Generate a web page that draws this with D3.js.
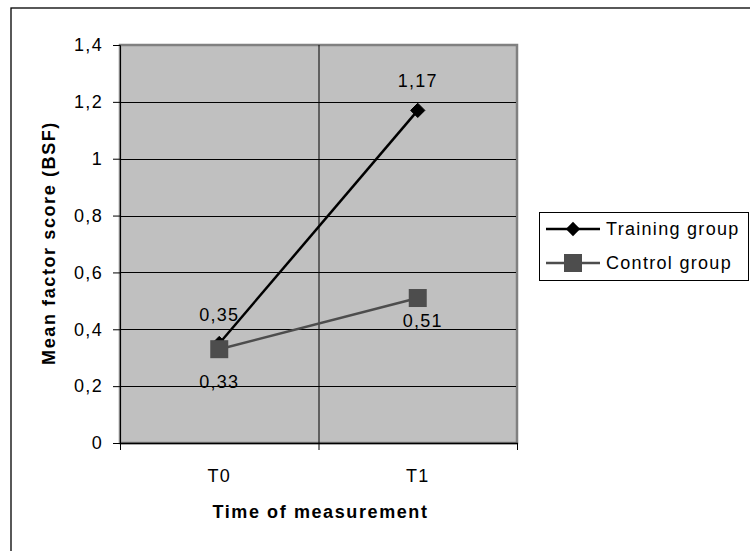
<!DOCTYPE html>
<html>
<head>
<meta charset="utf-8">
<script src="https://cdn.jsdelivr.net/npm/d3@7"></script>
<style>
  body { margin: 0; background: #fff; }
  text { font-family: "Liberation Sans", Arial, sans-serif; }
</style>
</head>
<body>
<script>
// chart data
var categories = ["T0", "T1"];
var trainingValues = [0.35, 1.17];
var controlValues = [0.33, 0.51];
var yTicks = [0, 0.2, 0.4, 0.6, 0.8, 1, 1.2, 1.4];
var seriesNames = ["Training group", "Control group"];

var W = 750, H = 551;
var plot = {left: 120, top: 45, right: 517, bottom: 443};
var FS = 18, LS = 1.3;

var svg = d3.select("body").append("svg")
  .attr("width", W).attr("height", H);

// outer frame (only left/top visible in the picture)
svg.append("rect")
  .attr("x", 11).attr("y", 8).attr("width", W + 10).attr("height", H + 10)
  .attr("fill", "#fff").attr("stroke", "#000").attr("stroke-width", 1.3);

var x = d3.scaleBand().domain(categories).range([plot.left, plot.right]);
var y = d3.scaleLinear().domain([0, 1.4]).range([plot.bottom, plot.top]);
var fmt = function(v){ return String(v).replace(".", ","); };

// plot background
svg.append("rect")
  .attr("x", plot.left).attr("y", plot.top)
  .attr("width", plot.right - plot.left).attr("height", plot.bottom - plot.top)
  .attr("fill", "#c0c0c0").attr("stroke", "#808080").attr("stroke-width", 2.5);

// horizontal gridlines
svg.selectAll("line.grid").data(yTicks.slice(1, -1)).enter().append("line")
  .attr("class", "grid")
  .attr("x1", plot.left).attr("x2", plot.right - 1)
  .attr("y1", function(d){ return Math.round(y(d)) + 0.5; })
  .attr("y2", function(d){ return Math.round(y(d)) + 0.5; })
  .attr("stroke", "#000").attr("stroke-width", 1);

// vertical gridline between categories
svg.append("line")
  .attr("x1", x("T1") + 0.5).attr("x2", x("T1") + 0.5)
  .attr("y1", plot.top).attr("y2", plot.bottom)
  .attr("stroke", "#000");

// y axis
var yAxis = d3.axisLeft(y).tickValues(yTicks).tickSize(7).tickPadding(10).tickFormat(fmt);
var gy = svg.append("g").attr("transform", "translate(" + plot.left + ",0)").call(yAxis);
gy.select(".domain").attr("stroke", "#000");
gy.selectAll("text").attr("font-size", FS).attr("fill", "#000")
  .attr("letter-spacing", LS).attr("font-family", "Liberation Sans, Arial, sans-serif");

// x axis
var gx = svg.append("g").attr("transform", "translate(0," + plot.bottom + ")");
gx.append("line").attr("x1", plot.left).attr("x2", plot.right + 1)
  .attr("y1", 0.5).attr("y2", 0.5).attr("stroke", "#000").attr("stroke-width", 1.5);
var xEdges = [plot.left, x("T1"), plot.right];
gx.selectAll("line.tk").data(xEdges).enter().append("line")
  .attr("class", "tk")
  .attr("x1", function(d){ return d + 0.5; }).attr("x2", function(d){ return d + 0.5; })
  .attr("y1", 0).attr("y2", 7).attr("stroke", "#000");
gx.selectAll("text").data(categories).enter().append("text")
  .attr("x", function(d){ return x(d) + x.bandwidth() / 2; })
  .attr("y", 39).attr("text-anchor", "middle").attr("font-size", FS)
  .attr("letter-spacing", LS)
  .text(function(d){ return d; });

// axis titles
svg.append("text")
  .attr("x", (plot.left + plot.right) / 2 + 2).attr("y", 518)
  .attr("text-anchor", "middle").attr("font-size", FS).attr("font-weight", "bold")
  .attr("letter-spacing", 1.6)
  .text("Time of measurement");
svg.append("text")
  .attr("transform", "translate(55,243) rotate(-90)")
  .attr("text-anchor", "middle").attr("font-size", FS).attr("font-weight", "bold")
  .attr("letter-spacing", 1.6)
  .text("Mean factor score (BSF)");

var cx = function(i){ return x(categories[i]) + x.bandwidth() / 2; };
var line = d3.line().x(function(d, i){ return cx(i); }).y(function(d){ return y(d); });

// control series
svg.append("path").datum(controlValues).attr("d", line)
  .attr("fill", "none").attr("stroke", "#4d4d4d").attr("stroke-width", 2.5);
// training series
svg.append("path").datum(trainingValues).attr("d", line)
  .attr("fill", "none").attr("stroke", "#000").attr("stroke-width", 2.5);

var diamond = d3.symbol().type(d3.symbolDiamond2).size(130);
svg.selectAll("path.dia").data(trainingValues).enter().append("path")
  .attr("class", "dia")
  .attr("d", diamond)
  .attr("transform", function(d, i){ return "translate(" + cx(i) + "," + y(d) + ")"; })
  .attr("fill", "#000").attr("stroke", "#000").attr("stroke-width", 1).attr("stroke-linejoin", "round");
svg.selectAll("rect.sq").data(controlValues).enter().append("rect")
  .attr("class", "sq")
  .attr("x", function(d, i){ return cx(i) - 9; }).attr("y", function(d){ return y(d) - 9; })
  .attr("width", 18).attr("height", 18).attr("fill", "#4d4d4d");

// data labels (training above, control below)
var trainingLabelDy = [-23, -23];
var controlLabelDy = [39, 29];
svg.selectAll("text.tl").data(trainingValues).enter().append("text")
  .attr("class", "tl")
  .attr("x", function(d, i){ return cx(i); })
  .attr("y", function(d, i){ return y(d) + trainingLabelDy[i]; })
  .attr("text-anchor", "middle").attr("font-size", FS).attr("letter-spacing", LS).text(fmt);
svg.selectAll("text.cl").data(controlValues).enter().append("text")
  .attr("class", "cl")
  .attr("x", function(d, i){ return cx(i) + (i ? 5 : 0); })
  .attr("y", function(d, i){ return y(d) + controlLabelDy[i]; })
  .attr("text-anchor", "middle").attr("font-size", FS).attr("letter-spacing", LS).text(fmt);

// legend
var lg = svg.append("g");
lg.append("rect").attr("x", 539.5).attr("y", 212.5).attr("width", 209).attr("height", 68)
  .attr("fill", "#fff").attr("stroke", "#000");
var legendY = [229, 263];
seriesNames.forEach(function(name, i){
  var col = i ? "#4d4d4d" : "#000";
  lg.append("line").attr("x1", 546).attr("x2", 600)
    .attr("y1", legendY[i]).attr("y2", legendY[i])
    .attr("stroke", col).attr("stroke-width", 2.5);
  if (i === 0) {
    lg.append("path").attr("d", diamond)
      .attr("transform", "translate(573," + legendY[i] + ")").attr("fill", col);
  } else {
    lg.append("rect").attr("x", 564).attr("y", legendY[i] - 9)
      .attr("width", 18).attr("height", 18).attr("fill", col);
  }
  lg.append("text").attr("x", 606).attr("y", legendY[i] + 6)
    .attr("font-size", FS).attr("letter-spacing", LS).text(name);
});
</script>
</body>
</html>
